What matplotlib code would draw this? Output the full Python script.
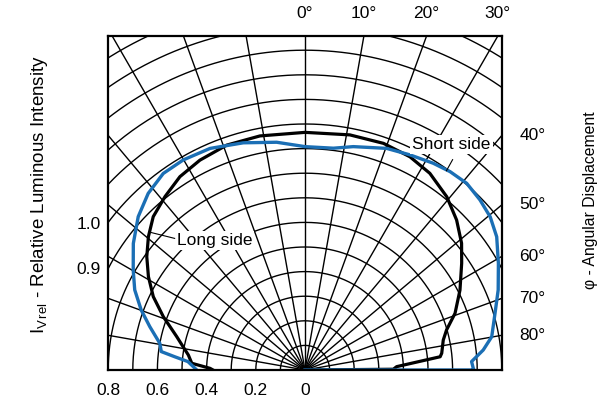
import numpy as np
import matplotlib
matplotlib.use('Agg')
import matplotlib.pyplot as plt

plt.rcParams['font.family'] = ['Liberation Sans', 'DejaVu Sans']
plt.rcParams['mathtext.fontset'] = 'custom'
plt.rcParams['mathtext.rm'] = 'Liberation Sans'
plt.rcParams['mathtext.it'] = 'Liberation Sans'

# %% Data (angle from axis in deg, relative intensity)
long_ang = [-90, -89, -86.6, -82.7, -75.4, -69.4, -64.2, -59.2, -54.4, -49.6, -44.7, -38.9,
            -32.9, -26.6, -19.2, -10.9, 0, 10.8, 19.1, 26.2, 32.4, 39.3, 45.3, 51.0, 55.7,
            62.7, 69.3, 74.2, 77.8, 83.0, 84.4, 87.9, 89.5, 90]
long_int = [0.374, 0.386, 0.461, 0.478, 0.539, 0.615, 0.685, 0.741, 0.791, 0.836, 0.877, 0.906,
            0.936, 0.954, 0.968, 0.969, 0.966, 0.973, 0.975, 0.966, 0.947, 0.910, 0.867, 0.819, 0.771,
            0.709, 0.652, 0.598, 0.575, 0.560, 0.552, 0.373, 0.359, 0.0]

short_ang = [-90, -85.9, -84.2, -82.7, -79.6, -74.4, -69.9, -64.8, -59.8, -53.6, -47.4, -41.6,
             -35.8, -30.1, -23.2, -15.2, -7.1, 0, 7.3, 12.2, 20.2, 26.0, 31.8, 36.2, 40.9,
             45.8, 50.4, 55.2, 61.1, 67.5, 73.4, 79.9, 83.6, 87.1, 89.4, 90, 90]
short_int = [0.440, 0.477, 0.532, 0.589, 0.600, 0.655, 0.709, 0.765, 0.808, 0.867, 0.921, 0.960,
             0.985, 0.987, 0.980, 0.957, 0.933, 0.908, 0.909, 0.929, 0.960, 0.973, 0.989, 0.999, 1.004,
             0.992, 0.977, 0.949, 0.898, 0.850, 0.806, 0.771, 0.729, 0.678, 0.684, 0.687, 0.0]

top_ticks   = [0, 10, 20, 30]
right_ticks = [40, 50, 60, 70, 80]
bottom_vals = [0.8, 0.6, 0.4, 0.2, 0]
left_vals   = ['1.0', '0.9']

blue = '#1b6fb5'
fs = 12.5

def to_xy(ang, val):
    a = np.deg2rad(np.asarray(ang))
    v = np.asarray(val)
    return v * np.sin(a), v * np.cos(a)

fig = plt.figure(figsize=(6.1, 4.05), dpi=100)
ax = fig.add_axes([108/610, 35/405, 394/610, 334/405])
xmax = 197/246
ymax = 334/246
ax.set_xlim(-xmax, xmax)
ax.set_ylim(0, ymax)
ax.set_xticks([])
ax.set_yticks([])
for sp in ax.spines.values():
    sp.set_linewidth(1.6)
    sp.set_zorder(10)

# Grid ------------------------
t = np.linspace(-np.pi/2, np.pi/2, 400)
for r in np.arange(0.1, 1.65, 0.1):
    ax.plot(r*np.sin(t), r*np.cos(t), color='k', lw=1.0, zorder=1)
for a in range(-80, 81, 10):
    aa = np.deg2rad(a)
    ax.plot([0, 3*np.sin(aa)], [0, 3*np.cos(aa)], color='k', lw=1.0, zorder=1)

# Curves ----------------------
x, y = to_xy(long_ang, long_int)
ax.plot(x, y, color='k', lw=2.3, zorder=3, solid_joinstyle='round')
x, y = to_xy(short_ang, short_int)
ax.plot(x, y, color=blue, lw=2.4, zorder=4, solid_joinstyle='round')

# Labels ----------------------
bb = dict(facecolor='white', edgecolor='none', pad=1.5)
ax.text(-0.368, 0.528, 'Long side', fontsize=fs, ha='center', va='center', bbox=bb, zorder=5)
ax.plot([-0.53, -0.63], [0.535, 0.56], color='k', lw=0.8, zorder=5)
ax.text(0.595, 0.915, 'Short side', fontsize=fs, ha='center', va='center', bbox=bb, zorder=5)
ax.plot([0.60, 0.575], [0.855, 0.81], color='k', lw=0.8, zorder=5)

for a in top_ticks:
    xp = ymax*np.tan(np.deg2rad(a))
    ax.text(xp, ymax + 0.09, f'{a}°', fontsize=fs, ha='center', va='center', clip_on=False)
for a in right_ticks:
    yp = xmax/np.tan(np.deg2rad(a))
    ax.text(xmax + 0.07, yp, f'{a}°', fontsize=fs, ha='left', va='center', clip_on=False)
for v in bottom_vals:
    ax.text(-v, -0.085, f'{v:g}', fontsize=fs, ha='center', va='center', clip_on=False)
for s, yp in zip(left_vals, [0.59, 0.41]):
    ax.text(-xmax - 0.03, yp, s, fontsize=fs, ha='right', va='center', clip_on=False)

fig.text(40/610, 1 - 195/405, r'I$_{\mathrm{V\,rel}}$ - Relative Luminous Intensity',
         fontsize=13.5, rotation=90, ha='center', va='center')
fig.text(591/610, 1 - 200/405, 'φ - Angular Displacement',
         fontsize=11.3, rotation=90, ha='center', va='center')

fig.savefig('out.png', dpi=100)
